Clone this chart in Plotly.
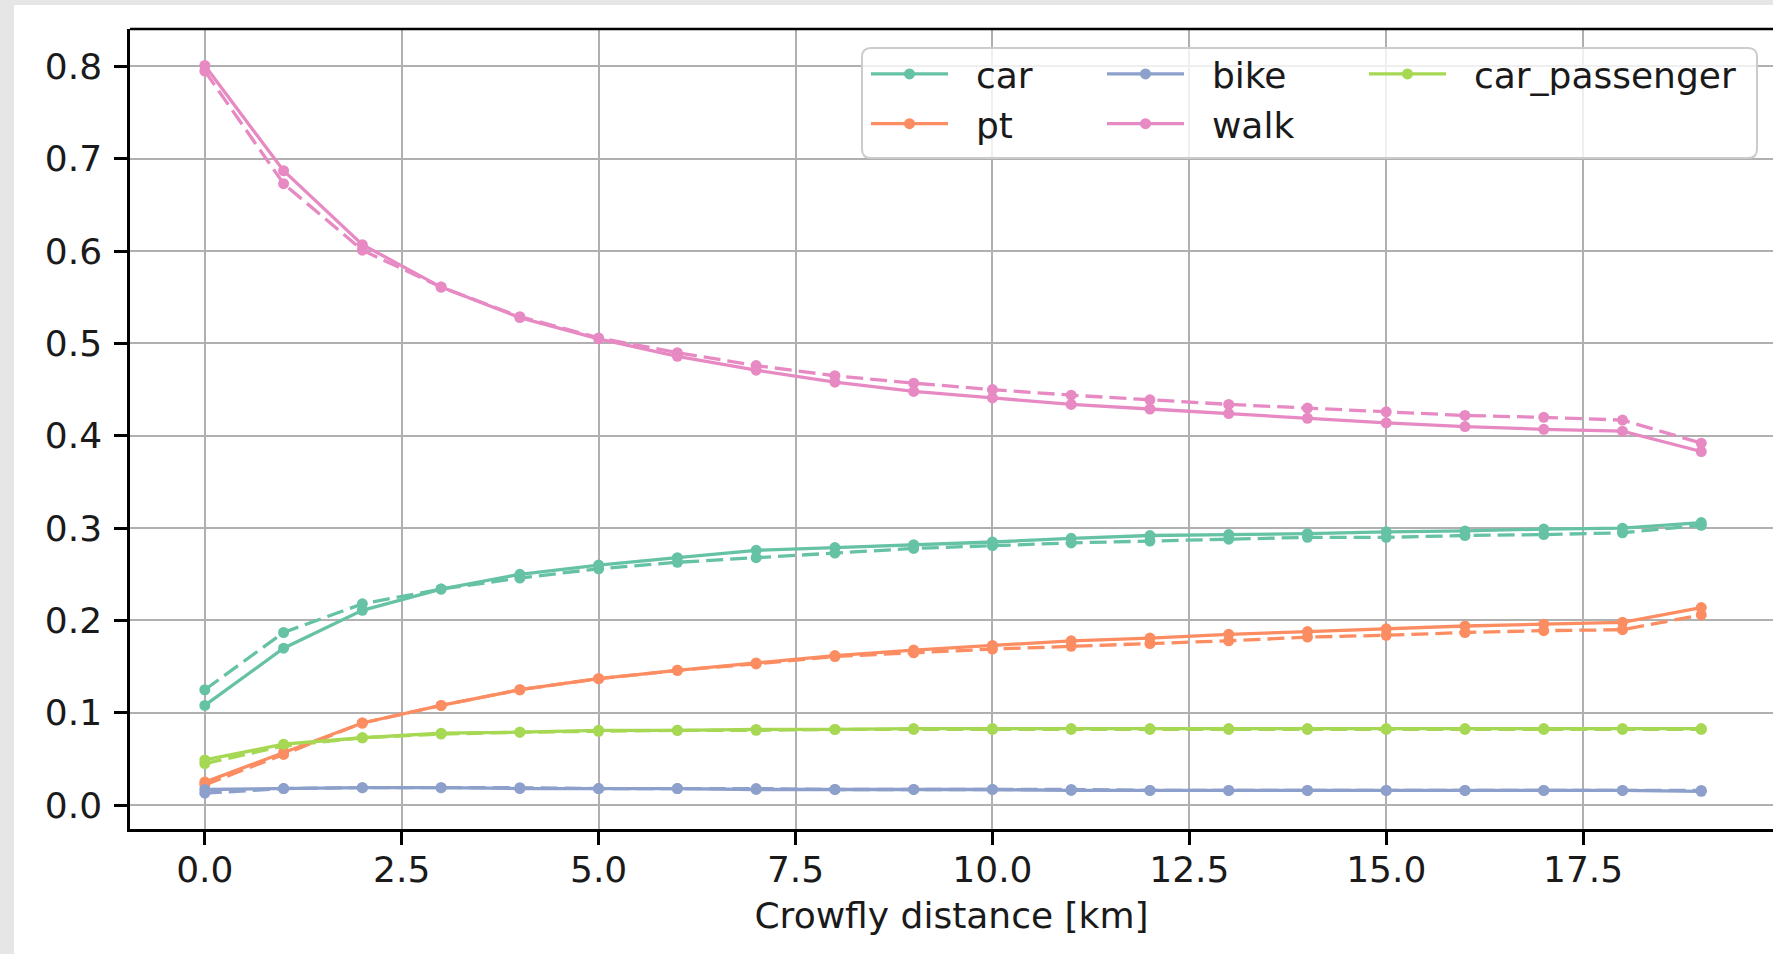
import plotly.graph_objects as go

# ---- data ----
distance_km = list(range(20))
modes = ["car", "pt", "bike", "walk", "car_passenger"]
colors = {"car": "#66c2a5", "pt": "#fc8d62", "bike": "#8da0cb",
          "walk": "#e78ac3", "car_passenger": "#a6d854"}

car_solid = [0.108, 0.170, 0.211, 0.234, 0.250, 0.260, 0.268, 0.276, 0.279, 0.282,
             0.285, 0.289, 0.292, 0.293, 0.294, 0.296, 0.297, 0.299, 0.300, 0.306]
car_dashed = [0.125, 0.187, 0.218, 0.234, 0.246, 0.256, 0.263, 0.268, 0.273, 0.278,
              0.281, 0.284, 0.286, 0.288, 0.290, 0.290, 0.292, 0.293, 0.295, 0.303]
pt_solid = [0.025, 0.057, 0.089, 0.108, 0.125, 0.137, 0.146, 0.154, 0.162, 0.168,
            0.173, 0.178, 0.181, 0.185, 0.188, 0.191, 0.194, 0.196, 0.198, 0.214]
pt_dashed = [0.022, 0.055, 0.089, 0.108, 0.125, 0.137, 0.146, 0.153, 0.161, 0.165,
             0.169, 0.172, 0.175, 0.178, 0.182, 0.184, 0.187, 0.189, 0.190, 0.206]
bike_solid = [0.017, 0.018, 0.019, 0.019, 0.018, 0.018, 0.018, 0.017, 0.017, 0.017,
              0.017, 0.016, 0.016, 0.016, 0.016, 0.016, 0.016, 0.016, 0.016, 0.015]
bike_dashed = [0.013, 0.018, 0.019, 0.019, 0.019, 0.018, 0.018, 0.018, 0.017, 0.017,
               0.017, 0.017, 0.016, 0.016, 0.016, 0.016, 0.016, 0.016, 0.016, 0.016]
walk_solid = [0.801, 0.687, 0.607, 0.561, 0.528, 0.505, 0.486, 0.471, 0.458, 0.448,
              0.441, 0.434, 0.429, 0.424, 0.419, 0.414, 0.410, 0.407, 0.405, 0.383]
walk_dashed = [0.795, 0.673, 0.601, 0.561, 0.529, 0.506, 0.490, 0.476, 0.465, 0.457,
               0.450, 0.444, 0.439, 0.434, 0.430, 0.426, 0.422, 0.420, 0.417, 0.392]
cp_solid = [0.049, 0.066, 0.073, 0.078, 0.079, 0.081, 0.081, 0.082, 0.082, 0.083,
            0.083, 0.083, 0.083, 0.083, 0.083, 0.083, 0.083, 0.083, 0.083, 0.083]
cp_dashed = [0.045, 0.064, 0.073, 0.077, 0.079, 0.080, 0.081, 0.081, 0.082, 0.082,
             0.082, 0.082, 0.082, 0.082, 0.082, 0.082, 0.082, 0.082, 0.082, 0.082]

solid = {"car": car_solid, "pt": pt_solid, "bike": bike_solid,
         "walk": walk_solid, "car_passenger": cp_solid}
dashed = {"car": car_dashed, "pt": pt_dashed, "bike": bike_dashed,
          "walk": walk_dashed, "car_passenger": cp_dashed}
legend_of = {"car": "legend", "pt": "legend", "bike": "legend2",
             "walk": "legend2", "car_passenger": "legend3"}

x_ticks = [0, 2.5, 5, 7.5, 10, 12.5, 15, 17.5]
x_ticktext = ["0.0", "2.5", "5.0", "7.5", "10.0", "12.5", "15.0", "17.5"]
y_ticks = [0, 0.1, 0.2, 0.3, 0.4, 0.5, 0.6, 0.7, 0.8]
y_ticktext = ["0.0", "0.1", "0.2", "0.3", "0.4", "0.5", "0.6", "0.7", "0.8"]

# ---- layout geometry (pixels) ----
W, H = 1773, 954
L, T, B = 130, 29, 829
PW, PH = W - L, B - T
FONT = "DejaVu Sans"
FS = 36
TXT = "#1a1a1a"
PAD = "\u00a0\u00a0"
LW, MS = 3.3, 11


def px2x(p):
    return (p - L) / PW


def px2y(p):
    return (B - p) / PH


fig = go.Figure()

for m in modes:
    fig.add_trace(go.Scatter(
        x=distance_km, y=dashed[m], mode="lines+markers", showlegend=False,
        line=dict(color=colors[m], width=LW, dash="17px,7px"),
        marker=dict(color=colors[m], size=MS), hoverinfo="skip"))
for m in modes:
    fig.add_trace(go.Scatter(
        x=distance_km, y=solid[m], mode="lines+markers", name=PAD + m,
        legend=legend_of[m],
        line=dict(color=colors[m], width=LW),
        marker=dict(color=colors[m], size=MS)))

# white figure area over light-gray page frame
shapes = [dict(type="rect", xref="paper", yref="paper", layer="below",
               x0=px2x(14), x1=1.2, y0=px2y(1000), y1=px2y(5),
               fillcolor="white", line=dict(width=0))]
# top spine
shapes.append(dict(type="line", xref="paper", yref="paper", x0=0, x1=1.05,
                   y0=1, y1=1, line=dict(color="black", width=2.5), layer="above"))
# legend frame (rounded)
lx0, lx1, ly0, ly1, r = 862, 1757, 48, 158, 9
X0, X1, Y0, Y1 = px2x(lx0), px2x(lx1), px2y(ly1), px2y(ly0)
rx, ry = r / PW, r / PH
path = (f"M{X0+rx},{Y0} L{X1-rx},{Y0} Q{X1},{Y0} {X1},{Y0+ry} "
        f"L{X1},{Y1-ry} Q{X1},{Y1} {X1-rx},{Y1} L{X0+rx},{Y1} "
        f"Q{X0},{Y1} {X0},{Y1-ry} L{X0},{Y0+ry} Q{X0},{Y0} {X0+rx},{Y0} Z")
shapes.append(dict(type="path", path=path, xref="paper", yref="paper", layer="above",
                   fillcolor="rgba(255,255,255,0.8)",
                   line=dict(color="#cccccc", width=2)))

leg_common = dict(bgcolor="rgba(0,0,0,0)", borderwidth=0, xanchor="left",
                  yanchor="top", font=dict(family=FONT, size=FS, color=TXT),
                  itemwidth=77, tracegroupgap=0)

fig.update_layout(
    width=W, height=H,
    margin=dict(l=L, r=0, t=T, b=H - B, autoexpand=False),
    paper_bgcolor="#e6e6e6", plot_bgcolor="white",
    font=dict(family=FONT, size=FS, color=TXT),
    shapes=shapes,
    legend=dict(x=px2x(866), y=px2y(44), **leg_common),
    legend2=dict(x=px2x(1102), y=px2y(44), **leg_common),
    legend3=dict(x=px2x(1364), y=px2y(44), **leg_common),
    xaxis=dict(range=[-0.95, -0.95 + PW / 78.76], tickvals=x_ticks, ticktext=x_ticktext,
               showgrid=True, gridcolor="#b0b0b0", gridwidth=2, zeroline=False,
               showline=True, linecolor="black", linewidth=2.5,
               ticks="outside", ticklen=13, tickwidth=2.5, tickcolor="black",
               ticklabelstandoff=-6,
               tickfont=dict(family=FONT, size=FS, color=TXT),
               title=dict(text="Crowfly distance [km]", standoff=14,
                          font=dict(family=FONT, size=FS, color=TXT))),
    yaxis=dict(range=[-0.0258, 0.8405], tickvals=y_ticks, ticktext=y_ticktext,
               showgrid=True, gridcolor="#b0b0b0", gridwidth=2, zeroline=False,
               showline=True, linecolor="black", linewidth=2.5,
               ticks="outside", ticklen=13, tickwidth=2.5, tickcolor="black",
               ticklabelstandoff=5,
               tickfont=dict(family=FONT, size=FS, color=TXT)),
)

fig.write_html("out.html")
